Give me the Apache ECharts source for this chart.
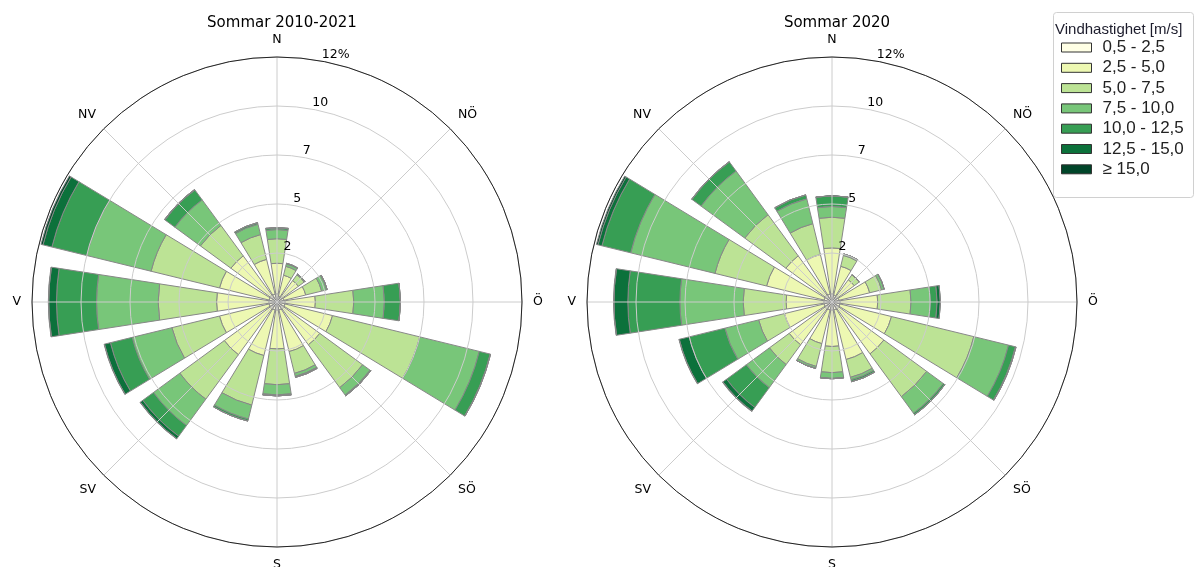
<!DOCTYPE html>
<html>
<head>
<meta charset="utf-8">
<script src="https://cdn.jsdelivr.net/npm/echarts@6/dist/echarts.min.js"></script>
<style>
  html, body { margin: 0; padding: 0; background: #fff; }
  #chart { width: 1195px; height: 567px; }
</style>
</head>
<body>
<div id="chart"></div>
<script>
// --- data ---
const directions = ['N', 'NNÖ', 'NÖ', 'ÖNÖ', 'Ö', 'ÖSÖ', 'SÖ', 'SSÖ', 'S', 'SSV', 'SV', 'VSV', 'V', 'VNV', 'NV', 'NNV'];
const mainLabels = ['N', 'NÖ', 'Ö', 'SÖ', 'S', 'SV', 'V', 'NV'];
const speedBins = ['0,5 - 2,5', '2,5 - 5,0', '5,0 - 7,5', '7,5 - 10,0', '10,0 - 12,5', '12,5 - 15,0', '≥ 15,0'];
const binColors = ['#ffffe5', '#edf8b2', '#bce395', '#78c679', '#379e54', '#0c713b', '#004529'];

// Sommar 2010-2021, % per direction (N ... NNV)
const all_b1 = [0.4, 0.3, 0.3, 0.35, 0.4, 0.4, 0.4, 0.4, 0.4, 0.4, 0.4, 0.4, 0.4, 0.4, 0.4, 0.4];
const all_b2 = [1.5, 1.05, 1.0, 1.1, 1.48, 2.4, 2.2, 2.1, 1.9, 2.3, 2.8, 2.5, 2.56, 2.5, 2.4, 1.75];
const all_b3 = [1.2, 0.45, 0.35, 0.8, 1.88, 4.4, 2.6, 1.1, 1.75, 2.5, 2.7, 2.4, 2.86, 3.45, 1.85, 1.25];
const all_b4 = [0.45, 0.12, 0.05, 0.25, 1.5, 3.0, 0.45, 0.15, 0.5, 0.7, 1.6, 2.0, 3.02, 3.25, 1.55, 0.52];
const all_b5 = [0.08, 0.03, 0, 0.03, 0.79, 0.55, 0.05, 0.05, 0.05, 0.1, 0.65, 1.1, 1.96, 1.75, 0.6, 0.08];
const all_b6 = [0.02, 0, 0, 0, 0, 0.02, 0, 0, 0, 0, 0.15, 0.3, 0.38, 0.45, 0.03, 0];
const all_b7 = [0, 0, 0, 0, 0, 0, 0, 0, 0, 0, 0.02, 0.02, 0.02, 0.1, 0, 0];

// Sommar 2020
const y20_b1 = [0.4, 0.35, 0.3, 0.35, 0.4, 0.4, 0.4, 0.4, 0.4, 0.4, 0.4, 0.4, 0.4, 0.4, 0.4, 0.4];
const y20_b2 = [2.25, 1.45, 1.05, 1.55, 1.84, 2.6, 2.75, 2.5, 1.78, 1.7, 2.2, 2.0, 1.85, 2.9, 2.4, 2.0];
const y20_b3 = [1.5, 0.55, 0.3, 0.6, 1.63, 4.15, 2.6, 0.9, 1.28, 1.15, 1.2, 1.3, 2.1, 2.6, 2.5, 1.55];
const y20_b4 = [0.53, 0.07, 0, 0.13, 0.95, 1.75, 1.0, 0.12, 0.28, 0.1, 1.4, 1.7, 3.1, 4.25, 2.65, 1.25];
const y20_b5 = [0.52, 0, 0, 0, 0.33, 0.35, 0.1, 0.1, 0.02, 0, 1.2, 1.8, 2.55, 1.45, 0.55, 0.2];
const y20_b6 = [0, 0, 0, 0, 0.16, 0.03, 0, 0, 0, 0, 0.22, 0.5, 0.68, 0.2, 0.02, 0];
const y20_b7 = [0, 0, 0, 0, 0, 0, 0, 0, 0, 0, 0.03, 0.02, 0.02, 0.08, 0, 0];

const allBins = [all_b1, all_b2, all_b3, all_b4, all_b5, all_b6, all_b7];
const y20Bins = [y20_b1, y20_b2, y20_b3, y20_b4, y20_b5, y20_b6, y20_b7];

// bar polar starts at NNÖ so the radius axis sits 11.25° right of north
const rot = arr => arr.slice(1).concat(arr[0]);

const R = 245;
const centers = [[277, 302], [832, 302]];
const gridColor = '#cccccc';
const labelFont = { fontFamily: 'DejaVu Sans', fontSize: 12.5, color: '#000' };

const chart = echarts.init(document.getElementById('chart'));

const polar = [], angleAxis = [], radiusAxis = [], series = [];
centers.forEach((c, k) => {
  const gi = k * 2, bi = k * 2 + 1;
  polar.push({ center: c, radius: R }, { center: c, radius: R });

  // grid polar: spokes, outer circle, direction labels
  angleAxis.push({
    polarIndex: gi, type: 'value', min: 0, max: 360, interval: 45, startAngle: 90, z: 5,
    axisLine: { lineStyle: { color: '#222', width: 1 } },
    axisTick: { show: false },
    axisLabel: { ...labelFont, margin: 11, formatter: v => (v < 360 ? mainLabels[v / 45] : '') },
    splitLine: { lineStyle: { color: gridColor, width: 1 } },
  });
  radiusAxis.push({
    polarIndex: gi, type: 'value', min: 0, max: 12,
    axisLine: { show: false }, axisTick: { show: false }, axisLabel: { show: false }, splitLine: { show: false },
  });

  // bar polar
  angleAxis.push({
    polarIndex: bi, type: 'category', data: rot(directions), startAngle: 78.75,
    axisLine: { show: false }, axisTick: { show: false }, axisLabel: { show: false }, splitLine: { show: false },
  });
  radiusAxis.push({
    polarIndex: bi, type: 'value', min: 0, max: 12, interval: 2.4, z: 5,
    axisLine: { show: false }, axisTick: { show: false },
    axisLabel: { ...labelFont, margin: 3, align: 'left', verticalAlign: 'bottom',
      formatter: v => (v <= 0 ? '' : v > 11.9 ? '12%' : String(Math.round(v))) },
    splitLine: { lineStyle: { color: gridColor, width: 1 } },
  });

  const bins = k === 0 ? allBins : y20Bins;
  speedBins.forEach((name, i) => {
    series.push({
      type: 'bar', name, coordinateSystem: 'polar', polarIndex: bi,
      stack: 'rose' + k, barCategoryGap: '22%',
      data: rot(bins[i]),
      itemStyle: { color: binColors[i], borderColor: '#878787', borderWidth: 1 },
    });
  });
});

chart.setOption({
  animation: false,
  title: [
    { text: 'Sommar 2010-2021', left: 277, top: 11, textAlign: 'center',
      textStyle: { fontFamily: 'DejaVu Sans', fontSize: 15, fontWeight: 'normal', color: '#000' } },
    { text: 'Sommar 2020', left: 832, top: 11, textAlign: 'center',
      textStyle: { fontFamily: 'DejaVu Sans', fontSize: 15, fontWeight: 'normal', color: '#000' } },
    { text: 'Vindhastighet [m/s]', left: 1055, top: 22, padding: 0,
      textStyle: { fontFamily: 'Liberation Sans', fontSize: 15, fontWeight: 'normal', color: '#1c1c2c' } },
  ],
  graphic: [{
    type: 'rect', left: 1053, top: 12, z: -1,
    shape: { width: 140, height: 185, r: 3 },
    style: { fill: '#fff', stroke: '#d0d0d0', lineWidth: 1 },
  }],
  legend: {
    data: speedBins, orient: 'vertical', left: 1061, top: 39, padding: 0,
    itemWidth: 30, itemHeight: 9, itemGap: 3.3, icon: 'rect', selectedMode: false,
    itemStyle: { borderColor: '#333', borderWidth: 1 },
    textStyle: { fontFamily: 'Liberation Sans', fontSize: 17, color: '#222', padding: [0, 0, 0, 6] },
  },
  polar, angleAxis, radiusAxis, series,
});
</script>
</body>
</html>
